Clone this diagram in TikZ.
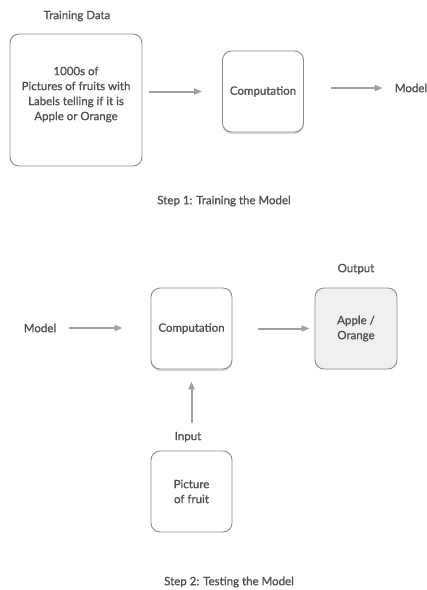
\documentclass[tikz,border=0pt]{standalone}
\usepackage{fontspec}
\setmainfont{Lato}[UprightFeatures={FakeBold=1.1}]
\usetikzlibrary{positioning, arrows.meta, shadows}
\definecolor{boxLine}{RGB}{140, 140, 140}
\definecolor{flowGray}{RGB}{160, 160, 160}
\definecolor{txtGray}{RGB}{80, 80, 80}
\definecolor{outFill}{RGB}{240, 240, 240}

\begin{document}
\begin{tikzpicture}[x=1pt, y=-1pt, font=\fontsize{11.5}{15}\selectfont, text=txtGray,
  box/.style={draw=boxLine, line width=0.9pt, rounded corners=9pt, align=center, inner sep=0pt},
  compbox/.style={box, fill=white, minimum width=81pt, minimum height=81pt,
    drop shadow={shadow xshift=0pt, shadow yshift=-2pt, opacity=0.3}},
  flow/.style={draw=flowGray, line width=2pt, -{Triangle[length=8pt, width=6pt]}},
  lbl/.style={inner sep=2pt}]
  \useasboundingbox (0,0) rectangle (427,590);

  % Step 1: training
  \node[lbl] (dataTitle) at (77,16) {Training Data};
  \node[box, minimum width=132pt, minimum height=132pt] (data) at (76,100) {};
  \node[lbl, align=center] (dataText) at (76,94.5) {1000s of\\Pictures of fruits with\\Labels telling if it is\\Apple or Orange};
  \node[compbox] (comp1) at (263,91.5) {Computation};
  \node[lbl] (model1) at (411,88) {Model};
  \node[lbl] (step1) at (224,201) {Step 1: Training the Model};

  \draw[flow, shorten <=7pt, shorten >=20pt] (data.east |- comp1.west) -- (comp1.west);
  \draw[flow, shorten <=27pt, shorten >=10pt] (comp1.east |- model1.west) -- (model1.west);

  % Step 2: testing
  \node[lbl] (model2) at (40,328) {Model};
  \node[compbox] (comp2) at (191.5,328.5) {Computation};
  \node[box, fill=outFill, minimum width=82pt, minimum height=81pt] (result) at (356,328.5) {Apple /\\Orange};
  \node[lbl] (outTitle) at (356,269) {Output};
  \node[lbl] (input) at (188,437) {Input};
  \node[box, minimum width=81pt, minimum height=81pt] (pic) at (191.5,491.5) {Picture\\of fruit};
  \node[lbl] (step2) at (229,582) {Step 2: Testing the Model};

  \draw[flow, shorten <=11pt, shorten >=28pt] (model2.east) -- (model2.east -| comp2.west);
  \draw[flow, shorten <=26pt, shorten >=5pt] (comp2.east) -- (result.west);
  \draw[flow, shorten <=7pt, shorten >=12pt] (input.north -| comp2.south) -- (comp2.south);
\end{tikzpicture}
\end{document}
